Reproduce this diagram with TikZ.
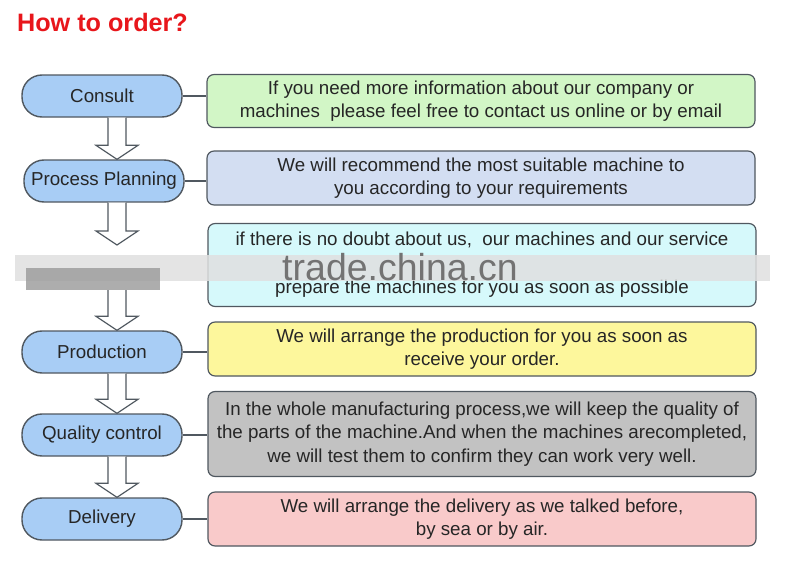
\documentclass[tikz,border=0pt]{standalone}
\usepackage{fontspec}
\setmainfont{Liberation Sans}
\usetikzlibrary{calc}
\definecolor{pillblue}{HTML}{A8CDF5}
\definecolor{edge}{HTML}{505860}
\definecolor{g1}{HTML}{D2F6C6}
\definecolor{g2}{HTML}{D3DEF2}
\definecolor{g3}{HTML}{D6F9FB}
\definecolor{g4}{HTML}{FDF79C}
\definecolor{g5}{HTML}{C2C2C2}
\definecolor{g6}{HTML}{F9CACA}
\definecolor{titlered}{HTML}{E8161B}
\tikzset{
  pill/.style={draw=edge,line width=1.2pt,fill=pillblue,rounded corners=20*0.03cm,minimum width=160*0.03cm,minimum height=42*0.03cm,inner sep=1pt,font=\fontsize{16}{18}\selectfont,text=black!85},
  infobox/.style={draw=edge,line width=1pt,rounded corners=6pt,minimum width=548*0.03cm,align=center,font=\fontsize{16}{20}\selectfont,text=black!85},
  link/.style={draw=edge,line width=1pt},
  harrow/.style={draw=edge,line width=1pt,fill=white}
}
\newcommand\harr[2]{%
  \draw[harrow] ($(#1)+(-9,0)$) -- ($(#2)+(-9,-14)$) -- ($(#2)+(-21,-14)$) -- (#2) -- ($(#2)+(21,-14)$) -- ($(#2)+(9,-14)$) -- ($(#1)+(9,0)$);}
\begin{document}
\begin{tikzpicture}[x=0.03cm,y=-0.03cm]
\useasboundingbox (0,0) rectangle (800,561);
\fill[white] (0,0) rectangle (800,561);
\node[anchor=west,text=titlered,font=\bfseries\fontsize{21.5}{22}\selectfont] (title) at (13,22) {How to order?};
\node[pill] (p1) at (102,96) {Consult};
\node[pill] (p2) at (104,181) {Process Planning};
\node[pill] (p4) at (102,352) {Production};
\node[pill] (p5) at (102,435) {Quality control};
\node[pill] (p6) at (102,519) {Delivery};
\node[infobox,fill=g1,minimum height=53*0.03cm] (b1) at (481,101) {If you need more information about our company or\\machines\ \ please feel free to contact us online or by email};
\node[infobox,fill=g2,minimum height=54*0.03cm] (b2) at (481,178) {We will recommend the most suitable machine to\\you according to your requirements};
\node[infobox,fill=g3,minimum height=83*0.03cm] (b3) at (482,265) {if there is no doubt about us,\ \ our machines and our service\\[21pt]prepare the machines for you as soon as possible};
\node[infobox,fill=g4,minimum height=54*0.03cm] (b4) at (482,349) {We will arrange the production for you as soon as\\receive your order.};
\node[infobox,fill=g5,minimum height=85*0.03cm] (b5) at (482,434) {In the whole manufacturing process,we will keep the quality of\\the parts of the machine.And when the machines arecompleted,\\we will test them to confirm they can work very well.};
\node[infobox,fill=g6,minimum height=54*0.03cm] (b6) at (482,519) {We will arrange the delivery as we talked before,\\by sea or by air.};
\draw[link] (p1.east) -- (p1.east -| b1.west);
\draw[link] (p2.east) -- (p2.east -| b2.west);
\draw[link] (p4.east) -- (p4.east -| b4.west);
\draw[link] (p5.east) -- (p5.east -| b5.west);
\draw[link] (p6.east) -- (p6.east -| b6.west);
\coordinate (c3top) at (117,245);
\coordinate (c3bot) at (117,290);
\harr{p1.south -| c3top}{p2.north -| c3top}
\harr{p2.south -| c3top}{c3top}
\draw[harrow] ($(c3bot)+(-9,0)$) -- ($(p4.north -| c3bot)+(-9,-14)$) -- ($(p4.north -| c3bot)+(-21,-14)$) -- (p4.north -| c3bot) -- ($(p4.north -| c3bot)+(21,-14)$) -- ($(p4.north -| c3bot)+(9,-14)$) -- ($(c3bot)+(9,0)$);
\harr{p4.south -| c3top}{p5.north -| c3top}
\harr{p5.south -| c3top}{p6.north -| c3top}
\fill[black!12,opacity=0.85] (15,255) rectangle (770,281);
\fill[black!40,opacity=0.8] (26,268) rectangle (160,290);
\node[text=black!55,font=\fontsize{32}{34}\selectfont] (wm) at (400,267) {trade.china.cn};
\end{tikzpicture}
\end{document}
